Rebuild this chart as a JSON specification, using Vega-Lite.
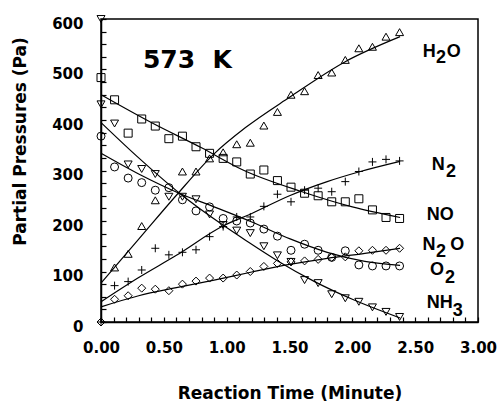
{
  "$schema": "https://vega.github.io/schema/vega-lite/v6.json",
  "width": 377,
  "height": 303,
  "autosize": {"type": "none"},
  "padding": {"left": 101, "top": 19, "right": 23, "bottom": 81},
  "background": "white",
  "config": {"view": {"stroke": "black", "strokeWidth": 1.5}},
  "datasets": {
    "pts": [
      {"species": "H2O", "t": 0.108, "P": 108}, {"species": "H2O", "t": 0.216, "P": 135}, {"species": "H2O", "t": 0.324, "P": 190}, {"species": "H2O", "t": 0.432, "P": 241},
      {"species": "H2O", "t": 0.648, "P": 298}, {"species": "H2O", "t": 0.756, "P": 298}, {"species": "H2O", "t": 0.864, "P": 324}, {"species": "H2O", "t": 0.972, "P": 336},
      {"species": "H2O", "t": 1.08, "P": 352}, {"species": "H2O", "t": 1.188, "P": 355}, {"species": "H2O", "t": 1.296, "P": 389}, {"species": "H2O", "t": 1.404, "P": 416},
      {"species": "H2O", "t": 1.512, "P": 450}, {"species": "H2O", "t": 1.62, "P": 457}, {"species": "H2O", "t": 1.728, "P": 489}, {"species": "H2O", "t": 1.836, "P": 494},
      {"species": "H2O", "t": 1.944, "P": 519}, {"species": "H2O", "t": 2.052, "P": 542}, {"species": "H2O", "t": 2.16, "P": 545}, {"species": "H2O", "t": 2.268, "P": 565}, {"species": "H2O", "t": 2.376, "P": 574},
      {"species": "NO", "t": 0, "P": 484}, {"species": "NO", "t": 0.108, "P": 440}, {"species": "NO", "t": 0.216, "P": 374}, {"species": "NO", "t": 0.324, "P": 402}, {"species": "NO", "t": 0.432, "P": 388},
      {"species": "NO", "t": 0.54, "P": 363}, {"species": "NO", "t": 0.648, "P": 368}, {"species": "NO", "t": 0.756, "P": 347}, {"species": "NO", "t": 0.864, "P": 334}, {"species": "NO", "t": 0.972, "P": 324},
      {"species": "NO", "t": 1.08, "P": 317}, {"species": "NO", "t": 1.188, "P": 293}, {"species": "NO", "t": 1.296, "P": 301}, {"species": "NO", "t": 1.404, "P": 280}, {"species": "NO", "t": 1.512, "P": 267},
      {"species": "NO", "t": 1.62, "P": 255}, {"species": "NO", "t": 1.728, "P": 250}, {"species": "NO", "t": 1.836, "P": 238}, {"species": "NO", "t": 1.944, "P": 238}, {"species": "NO", "t": 2.052, "P": 244},
      {"species": "NO", "t": 2.16, "P": 222}, {"species": "NO", "t": 2.268, "P": 207}, {"species": "NO", "t": 2.376, "P": 205},
      {"species": "NH3", "t": 0, "P": 600}, {"species": "NH3", "t": 0, "P": 431}, {"species": "NH3", "t": 0.108, "P": 393}, {"species": "NH3", "t": 0.216, "P": 312}, {"species": "NH3", "t": 0.324, "P": 303},
      {"species": "NH3", "t": 0.432, "P": 293}, {"species": "NH3", "t": 0.54, "P": 248}, {"species": "NH3", "t": 0.648, "P": 248}, {"species": "NH3", "t": 0.756, "P": 243}, {"species": "NH3", "t": 0.864, "P": 213},
      {"species": "NH3", "t": 0.972, "P": 192}, {"species": "NH3", "t": 1.08, "P": 181}, {"species": "NH3", "t": 1.188, "P": 176}, {"species": "NH3", "t": 1.296, "P": 150}, {"species": "NH3", "t": 1.404, "P": 132},
      {"species": "NH3", "t": 1.512, "P": 119}, {"species": "NH3", "t": 1.62, "P": 83}, {"species": "NH3", "t": 1.728, "P": 77}, {"species": "NH3", "t": 1.836, "P": 55}, {"species": "NH3", "t": 1.944, "P": 47},
      {"species": "NH3", "t": 2.052, "P": 40}, {"species": "NH3", "t": 2.16, "P": 29}, {"species": "NH3", "t": 2.268, "P": 20}, {"species": "NH3", "t": 2.376, "P": 10},
      {"species": "O2", "t": 0, "P": 368}, {"species": "O2", "t": 0.108, "P": 307}, {"species": "O2", "t": 0.216, "P": 285}, {"species": "O2", "t": 0.324, "P": 276}, {"species": "O2", "t": 0.432, "P": 261},
      {"species": "O2", "t": 0.54, "P": 266}, {"species": "O2", "t": 0.648, "P": 242}, {"species": "O2", "t": 0.756, "P": 220}, {"species": "O2", "t": 0.864, "P": 228}, {"species": "O2", "t": 0.972, "P": 205},
      {"species": "O2", "t": 1.08, "P": 200}, {"species": "O2", "t": 1.188, "P": 196}, {"species": "O2", "t": 1.296, "P": 184}, {"species": "O2", "t": 1.404, "P": 170}, {"species": "O2", "t": 1.512, "P": 142},
      {"species": "O2", "t": 1.62, "P": 154}, {"species": "O2", "t": 1.728, "P": 142}, {"species": "O2", "t": 1.836, "P": 128}, {"species": "O2", "t": 1.944, "P": 141}, {"species": "O2", "t": 2.052, "P": 113},
      {"species": "O2", "t": 2.16, "P": 111}, {"species": "O2", "t": 2.268, "P": 111}, {"species": "O2", "t": 2.376, "P": 111},
      {"species": "N2O", "t": 0, "P": 0}, {"species": "N2O", "t": 0.108, "P": 45}, {"species": "N2O", "t": 0.216, "P": 52}, {"species": "N2O", "t": 0.324, "P": 67}, {"species": "N2O", "t": 0.432, "P": 65},
      {"species": "N2O", "t": 0.54, "P": 62}, {"species": "N2O", "t": 0.648, "P": 75}, {"species": "N2O", "t": 0.756, "P": 81}, {"species": "N2O", "t": 0.864, "P": 87}, {"species": "N2O", "t": 0.972, "P": 87},
      {"species": "N2O", "t": 1.08, "P": 93}, {"species": "N2O", "t": 1.188, "P": 100}, {"species": "N2O", "t": 1.296, "P": 110}, {"species": "N2O", "t": 1.404, "P": 116}, {"species": "N2O", "t": 1.512, "P": 119},
      {"species": "N2O", "t": 1.62, "P": 121}, {"species": "N2O", "t": 1.728, "P": 124}, {"species": "N2O", "t": 1.836, "P": 128}, {"species": "N2O", "t": 1.944, "P": 129}, {"species": "N2O", "t": 2.052, "P": 141},
      {"species": "N2O", "t": 2.16, "P": 142}, {"species": "N2O", "t": 2.268, "P": 142}, {"species": "N2O", "t": 2.376, "P": 146},
      {"species": "N2", "t": 0, "P": 0}, {"species": "N2", "t": 0.108, "P": 72}, {"species": "N2", "t": 0.216, "P": 80}, {"species": "N2", "t": 0.324, "P": 103}, {"species": "N2", "t": 0.432, "P": 146},
      {"species": "N2", "t": 0.54, "P": 133}, {"species": "N2", "t": 0.648, "P": 138}, {"species": "N2", "t": 0.756, "P": 143}, {"species": "N2", "t": 0.864, "P": 169}, {"species": "N2", "t": 0.972, "P": 189},
      {"species": "N2", "t": 1.08, "P": 208}, {"species": "N2", "t": 1.188, "P": 208}, {"species": "N2", "t": 1.296, "P": 229}, {"species": "N2", "t": 1.404, "P": 253}, {"species": "N2", "t": 1.512, "P": 238},
      {"species": "N2", "t": 1.62, "P": 261}, {"species": "N2", "t": 1.728, "P": 265}, {"species": "N2", "t": 1.836, "P": 258}, {"species": "N2", "t": 1.944, "P": 278}, {"species": "N2", "t": 2.052, "P": 298},
      {"species": "N2", "t": 2.16, "P": 317}, {"species": "N2", "t": 2.268, "P": 322}, {"species": "N2", "t": 2.376, "P": 319}
    ],
    "fit": [
      {"species": "H2O", "t": 0, "P": 77}, {"species": "H2O", "t": 0.3, "P": 164}, {"species": "H2O", "t": 0.6, "P": 251}, {"species": "H2O", "t": 0.9, "P": 333},
      {"species": "H2O", "t": 1.15, "P": 385}, {"species": "H2O", "t": 1.5, "P": 445}, {"species": "H2O", "t": 1.94, "P": 515}, {"species": "H2O", "t": 2.38, "P": 565},
      {"species": "NO", "t": 0, "P": 450}, {"species": "NO", "t": 0.4, "P": 395}, {"species": "NO", "t": 0.8, "P": 345}, {"species": "NO", "t": 1.13, "P": 301},
      {"species": "NO", "t": 1.6, "P": 258}, {"species": "NO", "t": 2.0, "P": 228}, {"species": "NO", "t": 2.38, "P": 207},
      {"species": "NH3", "t": 0, "P": 395}, {"species": "NH3", "t": 0.3, "P": 325}, {"species": "NH3", "t": 0.63, "P": 254}, {"species": "NH3", "t": 0.97, "P": 192},
      {"species": "NH3", "t": 1.15, "P": 162}, {"species": "NH3", "t": 1.4, "P": 122}, {"species": "NH3", "t": 1.7, "P": 80}, {"species": "NH3", "t": 2.0, "P": 45}, {"species": "NH3", "t": 2.38, "P": 8},
      {"species": "O2", "t": 0, "P": 334}, {"species": "O2", "t": 0.3, "P": 293}, {"species": "O2", "t": 0.63, "P": 254}, {"species": "O2", "t": 0.9, "P": 228},
      {"species": "O2", "t": 1.2, "P": 198}, {"species": "O2", "t": 1.5, "P": 165}, {"species": "O2", "t": 1.8, "P": 138}, {"species": "O2", "t": 2.1, "P": 120}, {"species": "O2", "t": 2.38, "P": 112},
      {"species": "N2O", "t": 0, "P": 30}, {"species": "N2O", "t": 0.3, "P": 52}, {"species": "N2O", "t": 0.6, "P": 68}, {"species": "N2O", "t": 0.9, "P": 83},
      {"species": "N2O", "t": 1.2, "P": 99}, {"species": "N2O", "t": 1.5, "P": 114}, {"species": "N2O", "t": 1.8, "P": 126}, {"species": "N2O", "t": 2.1, "P": 136}, {"species": "N2O", "t": 2.38, "P": 146},
      {"species": "N2", "t": 0, "P": 40}, {"species": "N2", "t": 0.3, "P": 88}, {"species": "N2", "t": 0.6, "P": 132}, {"species": "N2", "t": 0.97, "P": 190},
      {"species": "N2", "t": 1.2, "P": 215}, {"species": "N2", "t": 1.5, "P": 250}, {"species": "N2", "t": 1.8, "P": 278}, {"species": "N2", "t": 2.05, "P": 297}, {"species": "N2", "t": 2.38, "P": 318}
    ],
    "labels": [
      {"text": "H", "t": 2.56, "P": 525}, {"text": "2", "t": 2.666, "P": 513}, {"text": "O", "t": 2.751, "P": 525},
      {"text": "N", "t": 2.631, "P": 301}, {"text": "2", "t": 2.745, "P": 288},
      {"text": "NO", "t": 2.592, "P": 201},
      {"text": "N", "t": 2.559, "P": 142}, {"text": "2", "t": 2.665, "P": 129}, {"text": "O", "t": 2.78, "P": 142},
      {"text": "O", "t": 2.618, "P": 94}, {"text": "2", "t": 2.737, "P": 78},
      {"text": "NH", "t": 2.592, "P": 27}, {"text": "3", "t": 2.799, "P": 11}
    ]
  },
  "encoding": {
    "x": {
      "field": "t", "type": "quantitative",
      "scale": {"domain": [0, 3], "nice": false, "zero": false},
      "axis": {
        "values": [0, 0.1, 0.2, 0.3, 0.4, 0.5, 0.6, 0.7, 0.8, 0.9, 1, 1.1, 1.2, 1.3, 1.4, 1.5, 1.6, 1.7, 1.8, 1.9, 2, 2.1, 2.2, 2.3, 2.4, 2.5, 2.6, 2.7, 2.8, 2.9, 3],
        "labelExpr": "abs(datum.value * 2 - round(datum.value * 2)) < 0.001 ? format(datum.value, '.2f') : ''",
        "ticks": true, "tickSize": -5, "zindex": 2,
        "tickColor": "black", "tickWidth": 1.2, "tickOpacity": 1,
        "domainColor": "black", "domainWidth": 1.5,
        "grid": false, "labelFlush": false, "labelOverlap": false,
        "labelFont": "DejaVu Sans", "labelFontWeight": "bold", "labelFontSize": 15, "labelColor": "black",
        "labelPadding": 23,
        "title": "Reaction  Time  (Minute)",
        "titleFont": "DejaVu Sans", "titleFontWeight": "bold", "titleFontSize": 17, "titleColor": "black",
        "titleY": 76, "titleBaseline": "alphabetic"
      }
    },
    "y": {
      "field": "P", "type": "quantitative",
      "scale": {"domain": [0, 600], "nice": false},
      "axis": {
        "values": [0, 25, 50, 75, 100, 125, 150, 175, 200, 225, 250, 275, 300, 325, 350, 375, 400, 425, 450, 475, 500, 525, 550, 575, 600],
        "labelExpr": "datum.value % 100 === 0 ? format(datum.value, 'd') : ''",
        "ticks": true, "tickSize": -5, "zindex": 2,
        "tickColor": "black", "tickWidth": 1.2, "tickOpacity": 1,
        "domainColor": "black", "domainWidth": 1.5,
        "grid": false, "labelFlush": false, "labelOverlap": false,
        "labelFont": "DejaVu Sans", "labelFontWeight": "bold", "labelFontSize": 15, "labelColor": "black",
        "labelPadding": 23, "labelOffset": 4,
        "title": "Partial  Pressures  (Pa)",
        "titleFont": "DejaVu Sans", "titleFontWeight": "bold", "titleFontSize": 17, "titleColor": "black",
        "titleAngle": -90, "titleX": -81, "titleY": 122, "titleBaseline": "middle", "titleAlign": "center"
      }
    }
  },
  "layer": [
    {
      "data": {"name": "fit"},
      "mark": {"type": "line", "interpolate": "monotone", "color": "black", "strokeWidth": 1.2},
      "encoding": {"detail": {"field": "species"}}
    },
    {
      "data": {"name": "pts"},
      "mark": {"type": "point", "filled": false, "color": "black", "strokeWidth": 1, "size": 64, "opacity": 1},
      "encoding": {
        "shape": {
          "field": "species", "type": "nominal",
          "scale": {"domain": ["H2O", "NO", "NH3", "O2", "N2O", "N2"], "range": ["triangle-up", "square", "triangle-down", "circle", "diamond", "M-1,0L1,0M0,-1L0,1"]},
          "legend": null
        }
      }
    },
    {
      "data": {"name": "labels"},
      "mark": {"type": "text", "align": "left", "baseline": "alphabetic", "font": "Liberation Sans", "fontWeight": "bold", "fontSize": 18, "color": "black"},
      "encoding": {"text": {"field": "text"}}
    },
    {
      "data": {"values": [{"text": "573\u00a0\u00a0K", "t": 0.334, "P": 503}]},
      "mark": {"type": "text", "align": "left", "baseline": "alphabetic", "font": "DejaVu Sans", "fontWeight": "bold", "fontSize": 25, "color": "black"},
      "encoding": {"text": {"field": "text"}}
    }
  ]
}
